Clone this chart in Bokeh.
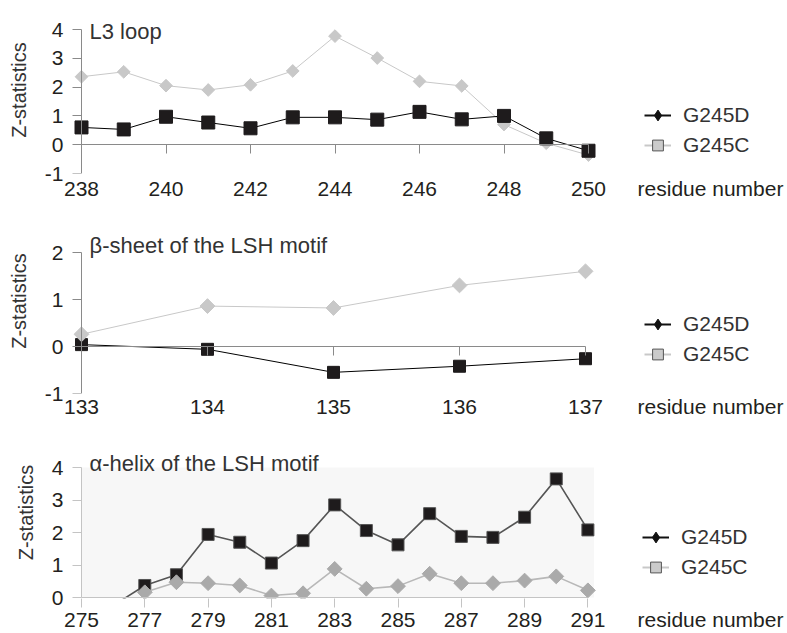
import math
from bokeh.plotting import figure
from bokeh.models import (Range1d, LinearAxis, FixedTicker, Legend, LegendItem,
                          Label, BoxAnnotation, CustomLabelingPolicy)
from bokeh.layouts import column
from bokeh.embed import file_html
from bokeh.resources import INLINE

FONT = "Liberation Sans"
nan = float("nan")

# ---------------- data ----------------
# Panel 1: L3 loop
l3_res = [238, 239, 240, 241, 242, 243, 244, 245, 246, 247, 248, 249, 250]
l3_g245d = [0.60, 0.53, 0.97, 0.77, 0.57, 0.95, 0.95, 0.87, 1.14, 0.88, 1.00, 0.22, -0.21]
l3_g245c = [2.36, 2.53, 2.05, 1.90, 2.08, 2.56, 3.77, 3.01, 2.20, 2.04, 0.70, 0.05, -0.36]
l3_xticks = [238, 240, 242, 244, 246, 248, 250]
l3_yticks = [-1, 0, 1, 2, 3, 4]

# Panel 2: beta-sheet of the LSH motif
bs_res = [133, 134, 135, 136, 137]
bs_g245d = [0.04, -0.06, -0.55, -0.42, -0.26]
bs_g245c = [0.26, 0.86, 0.82, 1.30, 1.60]
bs_xticks = [133, 134, 135, 136, 137]
bs_yticks = [-1, 0, 1, 2]

# Panel 3: alpha-helix of the LSH motif
ah_res = [276, 277, 278, 279, 280, 281, 282, 283, 284, 285, 286, 287, 288, 289, 290, 291]
ah_g245d = [-0.25, 0.37, 0.70, 1.94, 1.70, 1.06, 1.75, 2.85, 2.06, 1.62, 2.58, 1.88, 1.85, 2.47, 3.65, 2.08]
ah_g245c = [nan, 0.16, 0.47, 0.44, 0.37, 0.06, 0.13, 0.88, 0.27, 0.35, 0.73, 0.44, 0.44, 0.52, 0.65, 0.22]
ah_xticks = [275, 277, 279, 281, 283, 285, 287, 289, 291]
ah_yticks = [0, 1, 2, 3, 4]

series_names = ["G245D", "G245C"]
x_title = "residue number"
y_title = "Z-statistics"

TEXT = "#231f20"
FL = 70          # frame left (px)
AX = 81          # pixel of the first x tick / y axis line
FR = 786         # frame right (px)


def no_labels():
    return CustomLabelingPolicy(code="return []")


def make_panel(res, d_vals, c_vals, xticks, yticks, title, g, look):
    ppu = g["ppu"]
    x0 = xticks[0] - (AX - FL) / ppu
    x1 = x0 + (FR - FL) / ppu
    y1 = yticks[-1] + (g["ytop_px"] - g["ft"]) / g["ppy"]
    y0 = yticks[0] - (g["fb"] - g["ybot_px"]) / g["ppy"]
    p = figure(frame_width=FR - FL, frame_height=g["fb"] - g["ft"],
               x_range=Range1d(x0, x1), y_range=Range1d(y0, y1),
               x_axis_type=None, y_axis_type=None,
               output_backend="svg", toolbar_location=None,
               min_border_left=FL, min_border_right=787 - FR,
               min_border_top=g["ft"] - g["fig_top"],
               min_border_bottom=g["fig_bot"] - g["fb"])
    p.outline_line_color = None
    p.background_fill_color = "white"
    p.border_fill_color = "white"

    if look.get("bg"):
        p.add_layout(BoxAnnotation(left=xticks[0], right=xticks[-1] + 6 / ppu,
                                   bottom=yticks[0], top=yticks[-1],
                                   fill_color=look["bg"], fill_alpha=1.0,
                                   line_color=None, level="underlay"))

    # y axis: labels + title (left panel)
    ylab = LinearAxis(ticker=FixedTicker(ticks=yticks), axis_label=y_title,
                      major_label_overrides={t: str(t) for t in yticks if t < 0})
    ylab.axis_line_color = None
    ylab.major_tick_line_color = None
    ylab.minor_tick_line_color = None
    ylab.major_tick_out = 0
    ylab.major_tick_in = 0
    ylab.major_label_standoff = 7
    ylab.major_label_text_font = FONT
    ylab.major_label_text_font_size = "21px"
    ylab.major_label_text_color = TEXT
    ylab.axis_label_text_font = FONT
    ylab.axis_label_text_font_size = "20px"
    ylab.axis_label_text_font_style = "normal"
    ylab.axis_label_text_color = "#333333"
    ylab.axis_label_standoff = 12
    p.add_layout(ylab, "left")

    # y axis line + ticks drawn at the first residue
    yline = LinearAxis(ticker=FixedTicker(ticks=yticks), fixed_location=xticks[0],
                       bounds=(yticks[0], yticks[-1]), major_label_policy=no_labels())
    yline.axis_line_color = look["axis"]
    yline.major_tick_line_color = look["axis"]
    yline.minor_tick_line_color = None
    yline.major_tick_in = 9
    yline.major_tick_out = 0
    yline.major_label_text_font_size = "0px"
    yline.major_label_standoff = 0
    yline.level = "overlay"
    p.add_layout(yline, "right")

    # x axis line at y = 0 (with ticks hanging below it for the top two panels)
    zax = LinearAxis(ticker=FixedTicker(ticks=xticks), fixed_location=0,
                     bounds=(xticks[0], xticks[-1]), major_label_policy=no_labels())
    zax.axis_line_color = look["axis"]
    zax.major_tick_line_color = look["axis"] if look["zero_ticks"] else None
    zax.minor_tick_line_color = None
    zax.major_tick_in = 9 if look["zero_ticks"] else 0
    zax.major_tick_out = 0
    zax.major_label_text_font_size = "0px"
    zax.major_label_standoff = 0
    zax.level = "overlay"
    p.add_layout(zax, "above")

    # x tick labels (+ axis title at the right end of the same row)
    rn_pos = round(xticks[0] + 629 / ppu, 3)
    ticker = FixedTicker(ticks=xticks + [rn_pos])
    if not look["zero_ticks"]:
        ticker.minor_ticks = xticks
    xlab = LinearAxis(ticker=ticker, major_label_overrides={rn_pos: x_title})
    xlab.axis_line_color = None
    xlab.major_tick_line_color = None
    xlab.major_tick_out = 0
    xlab.major_tick_in = 0
    if look["zero_ticks"]:
        xlab.minor_tick_line_color = None
    else:
        xlab.minor_tick_line_color = look["axis"]
        xlab.minor_tick_out = 9
        xlab.minor_tick_in = 0
    xlab.major_label_standoff = g["xstandoff"]
    xlab.major_label_text_font = FONT
    xlab.major_label_text_font_size = "21px"
    xlab.major_label_text_color = TEXT
    p.add_layout(xlab, "below")

    def draw_d():
        p.line(res, d_vals, line_color=look["d_line"], line_width=look["lw"])
        p.scatter(res, d_vals, marker="square", size=look["sq"],
                  fill_color="#1e1b1c", line_color=look["sq_edge"])

    def draw_c():
        p.line(res, c_vals, line_color=look["c_line"], line_width=look["lw"])
        p.scatter(res, c_vals, marker="square", angle=math.pi / 4, size=look["dm"],
                  fill_color=look["c_fill"], line_color=look["c_fill"])

    if look["c_on_top"]:
        draw_d(); draw_c()
    else:
        draw_c(); draw_d()

    # legend entries (symbols as in the original legend)
    ld_line = p.line([nan], [nan], line_color="#111111", line_width=2)
    ld_mark = p.scatter([nan], [nan], marker="diamond", size=12,
                        fill_color="#111111", line_color="#111111")
    lc_line = p.line([nan], [nan], line_color="#c8c8c8", line_width=2)
    lc_mark = p.scatter([nan], [nan], marker="square", size=12,
                        fill_color="#cbcbcb", line_color="#555555")
    legend = Legend(items=[LegendItem(label=series_names[0], renderers=[ld_line, ld_mark]),
                           LegendItem(label=series_names[1], renderers=[lc_line, lc_mark])],
                    location=g["legend"], orientation="vertical",
                    glyph_width=27, glyph_height=30, label_height=30, spacing=0,
                    padding=0, margin=0, label_standoff=12,
                    border_line_color=None, background_fill_alpha=0,
                    label_text_font=FONT, label_text_font_size="21px",
                    label_text_color="#333333")
    p.add_layout(legend, "center")

    p.add_layout(Label(x=xticks[0], y=yticks[-1], x_offset=8, y_offset=g["title_dy"],
                       text=title, text_font=FONT, text_font_size="22px",
                       text_color="#333333", text_baseline="alphabetic"))
    return p


p1 = make_panel(l3_res, l3_g245d, l3_g245c, l3_xticks, l3_yticks, "L3 loop",
                dict(ppu=42.25, ppy=28.8, fig_top=0, fig_bot=202, ft=6, fb=173,
                     ytop_px=29, ybot_px=173, xstandoff=3,
                     legend=(574, 13), title_dy=-2),
                dict(axis="#8a8a8a", zero_ticks=True, d_line="#000000", lw=1,
                     sq=13, sq_edge="#1e1b1c", dm=9, c_fill="#c8c8c8",
                     c_line="#c8c8c8", c_on_top=False))

p2 = make_panel(bs_res, bs_g245d, bs_g245c, bs_xticks, bs_yticks,
                "\u03b2-sheet of the LSH motif",
                dict(ppu=126, ppy=47, fig_top=202, fig_bot=420, ft=208, fb=393,
                     ytop_px=252, ybot_px=393, xstandoff=1,
                     legend=(574, 24), title_dy=7),
                dict(axis="#8a8a8a", zero_ticks=True, d_line="#000000", lw=1,
                     sq=12, sq_edge="#1e1b1c", dm=10.5, c_fill="#c8c8c8",
                     c_line="#c8c8c8", c_on_top=True))

p3 = make_panel(ah_res, ah_g245d, ah_g245c, ah_xticks, ah_yticks,
                "\u03b1-helix of the LSH motif",
                dict(ppu=31.65, ppy=32.5, fig_top=420, fig_bot=633, ft=426, fb=598,
                     ytop_px=467, ybot_px=597, xstandoff=0,
                     legend=(572, 16), title_dy=4),
                dict(axis="#c4c4c4", zero_ticks=False, d_line="#555555", lw=1.6,
                     sq=12, sq_edge="#555555", dm=10.5, c_fill="#aaaaaa",
                     c_line="#b8b8b8", c_on_top=True, bg="#f7f7f7"))

layout = column(p1, p2, p3, spacing=0)
open("out.html", "w").write(file_html(layout, INLINE))
